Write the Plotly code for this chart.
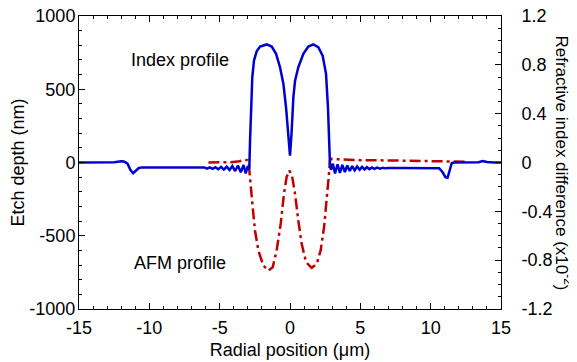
import plotly.graph_objects as go

# Index profile (blue, right axis: refractive index difference x10^-2)
idx_x = [-15.0, -14.0, -13.0, -12.5, -12.0, -11.8, -11.55, -11.35, -11.15, -10.95, -10.75, -10.5,
         -9.0, -8.0, -7.0, -6.4, -6.1, -5.9, -5.7, -5.5, -5.3, -5.1, -4.9, -4.7, -4.5, -4.3,
         -4.1, -3.9, -3.7, -3.5, -3.3, -3.15, -3.0, -2.93,
         -2.89, -2.84, -2.77, -2.68, -2.56, -2.37, -2.13, -1.66, -1.30, -0.99, -0.71, -0.47,
         -0.28, -0.12, 0.0, 0.12, 0.24, 0.36, 0.59, 0.95, 1.30, 1.66, 2.01, 2.32, 2.56, 2.70,
         2.77, 2.84,
         2.91, 3.05, 3.2, 3.38, 3.55, 3.72, 3.9, 4.07, 4.25, 4.42, 4.6, 4.77, 4.95, 5.12, 5.3,
         5.47, 5.65, 5.82, 6.0, 6.2, 6.4, 6.6, 6.8, 7.0,
         8.0, 9.0, 10.0, 10.6, 10.85, 11.05, 11.2, 11.35, 11.5, 11.7, 12.5, 13.4, 13.7, 14.0,
         14.5, 15.0]
idx_y = [0.0, 0.0, 0.0, 0.003, 0.01, 0.008, -0.01, -0.06, -0.088, -0.07, -0.045, -0.04,
         -0.04, -0.042, -0.044, -0.045, -0.04, -0.05, -0.04, -0.052, -0.038, -0.055, -0.036,
         -0.058, -0.034, -0.062, -0.03, -0.07, -0.025, -0.08, -0.02, -0.09, -0.03, -0.06,
         -0.04, 0.18, 0.45, 0.70, 0.835, 0.91, 0.95, 0.967, 0.95, 0.89, 0.78, 0.645,
         0.45, 0.235, 0.057, 0.26, 0.535, 0.67, 0.78, 0.89, 0.95, 0.967, 0.944, 0.876, 0.727,
         0.45, 0.18, -0.01,
         -0.06, -0.01, -0.09, -0.015, -0.085, -0.02, -0.078, -0.025, -0.07, -0.03, -0.065,
         -0.033, -0.06, -0.036, -0.057, -0.038, -0.054, -0.04, -0.052, -0.042, -0.05, -0.044,
         -0.048, -0.045,
         -0.045, -0.046, -0.046, -0.047, -0.08, -0.12, -0.125, -0.06, -0.005, 0.0, 0.0, 0.002,
         0.012, 0.004, 0.0, 0.0]

# AFM profile (red, left axis: etch depth in nm)
afm_x = [-5.8, -5.0, -4.2, -3.6, -3.2, -3.0, -2.93, -2.89, -2.8, -2.65, -2.49, -2.25, -1.9,
         -1.54, -1.23, -0.95, -0.66, -0.43, -0.24, -0.05, 0.14, 0.36, 0.59, 0.83, 1.14, 1.54,
         1.9, 2.18, 2.42, 2.61, 2.75, 2.84, 2.95, 3.5, 5.0, 7.0, 9.0, 11.0, 12.5]
afm_y = [0, 0, 2, 8, 18, 15, -10, -55, -168, -305, -464, -600, -703,
         -737, -715, -600, -418, -214, -100, -55, -89, -214, -396, -555, -680, -719,
         -692, -600, -442, -260, -100, 14, 25, 22, 16, 14, 12, 10, 5]

x_ticks = [-15, -10, -5, 0, 5, 10, 15]
x_labels = ["-15", "-10", "-5", "0", "5", "10", "15"]
left_ticks = [-1000, -500, 0, 500, 1000]
left_labels = ["-1000", "-500", "0", "500", "1000"]
right_ticks = [-1.2, -0.8, -0.4, 0, 0.4, 0.8, 1.2]
right_labels = ["-1.2", "-0.8", "-0.4", "0", "0.4", "0.8", "1.2"]

FONT = "Liberation Sans, Arial, sans-serif"
BLUE = "#0000D0"
RED = "#C00000"

fig = go.Figure()
fig.add_trace(go.Scatter(x=afm_x, y=afm_y, mode="lines", yaxis="y",
                         line=dict(color=RED, width=2.5, dash="11px,4px,3px,4px"),
                         showlegend=False))
fig.add_trace(go.Scatter(x=idx_x, y=idx_y, mode="lines", yaxis="y2",
                         line=dict(color=BLUE, width=2.5), showlegend=False))

axis_common = dict(showline=True, linecolor="black", linewidth=1, ticks="inside",
                   ticklen=6, tickcolor="black", tickwidth=1, showgrid=False,
                   zeroline=False, automargin=False, ticklabeloverflow="allow")

# the page body has an 8px margin, so the figure is sized to fit inside 577x362
fig.update_layout(
    width=569, height=354,
    margin=dict(l=71, r=76, t=8, b=53),
    paper_bgcolor="white", plot_bgcolor="white",
    font=dict(family=FONT, size=18, color="black"),
    xaxis=dict(range=[-15, 15], tickvals=x_ticks, ticktext=x_labels, mirror="ticks",
               minor=dict(dtick=1, ticks="inside", ticklen=3, tickcolor="black"),
               title=dict(text="Radial position (\u03bcm)", standoff=6,
                          font=dict(size=18)),
               ticklabelstandoff=2,
               tickfont=dict(size=18), **axis_common),
    yaxis=dict(range=[-1000, 1000], tickvals=left_ticks, ticktext=left_labels,
               minor=dict(dtick=100, ticks="inside", ticklen=3, tickcolor="black"),
               title=dict(text="Etch depth (nm)", standoff=6, font=dict(size=18)),
               ticklabelstandoff=-1,
               tickfont=dict(size=18), **axis_common),
    yaxis2=dict(range=[-1.2, 1.2], tickvals=right_ticks, ticktext=right_labels,
                overlaying="y", side="right",
                minor=dict(dtick=0.1, ticks="inside", ticklen=3, tickcolor="black"),
                tickfont=dict(size=18), ticklabelstandoff=16, **axis_common),
    annotations=[
        dict(text="Index profile", x=-7.8, y=703, xref="x", yref="y", showarrow=False,
             font=dict(size=18), xanchor="center", yanchor="middle"),
        dict(text="AFM profile", x=-7.8, y=-683, xref="x", yref="y", showarrow=False,
             font=dict(size=18), xanchor="center", yanchor="middle"),
        dict(text="Refractive index difference (x10<sup>-2</sup>)", textangle=90,
             x=1, xref="paper", xshift=63, y=0.5, yref="paper", showarrow=False,
             font=dict(size=17), xanchor="center", yanchor="middle"),
    ],
)

fig.write_html("out.html")
